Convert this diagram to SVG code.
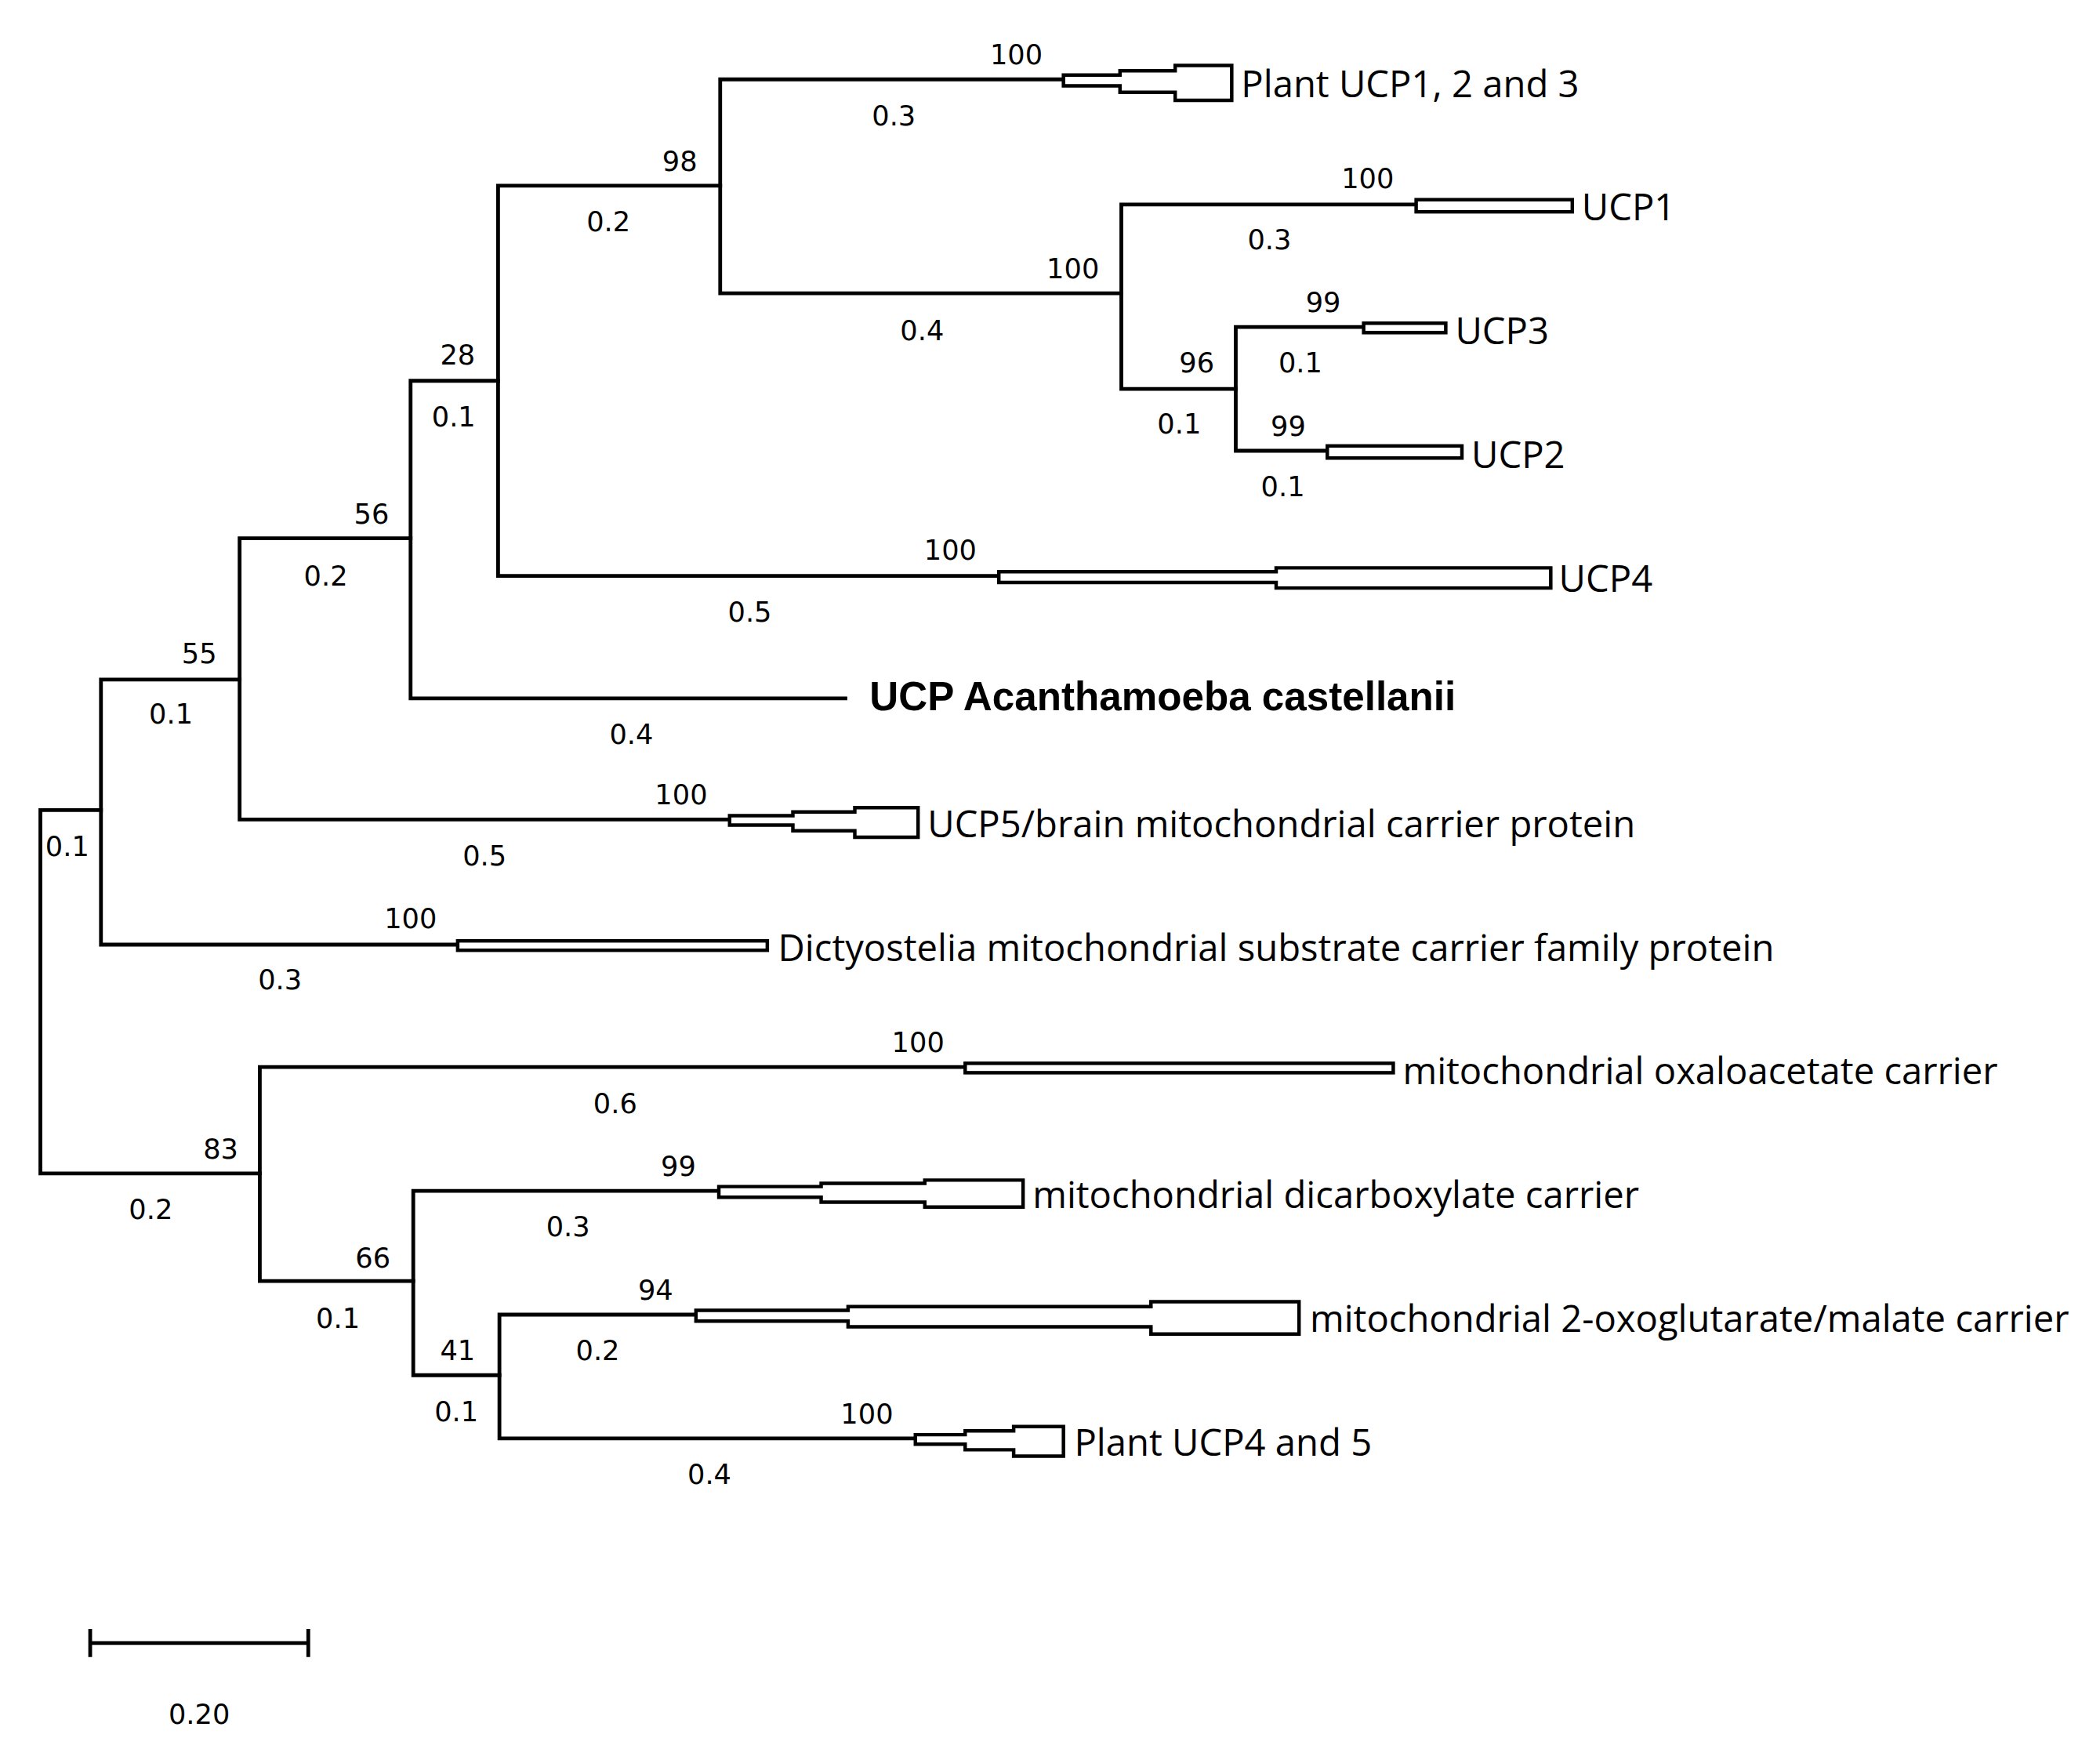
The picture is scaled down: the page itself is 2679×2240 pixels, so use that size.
<svg xmlns="http://www.w3.org/2000/svg" width="2679" height="2240" viewBox="0 0 2679 2240">
<style>
.e{fill:none;stroke:#000;stroke-width:2.8;stroke-linecap:square}
.c{fill:#fff;stroke:#000;stroke-width:2.6}
.n{font-family:"DejaVu Sans",sans-serif;font-size:20.5px;fill:#000;text-anchor:middle}
.l{font-family:"Open Sans",sans-serif;font-size:27.5px;fill:#000}
.b{font-family:"Liberation Sans",Arial,sans-serif;font-size:29.8px;font-weight:bold;fill:#000}
</style>
<rect width="2679" height="2240" fill="#fff"/>
<g transform="scale(1.7173,1.7165)">
<g id="connectors">
<path class="e" d="M75,602 H30 V872 H193"/>
<path class="e" d="M178,505 H75 V702 H340"/>
<path class="e" d="M305,400 H178 V609 H542"/>
<path class="e" d="M370,283 H305 V519 H628"/>
<path class="e" d="M535,138 H370 V428 H742"/>
<path class="e" d="M790,59 H535 V218 H833"/>
<path class="e" d="M1052,152 H833 V289 H918"/>
<path class="e" d="M1013,243 H918 V335 H986"/>
<path class="e" d="M717,793 H193 V952 H307"/>
<path class="e" d="M534,885 H307 V1022 H371"/>
<path class="e" d="M517,977 H371 V1069 H680"/>
</g>
<g id="plant-ucp123"><polygon class="c" points="790,55.8 832,55.8 832,52.6 873,52.6 873,48.6 915,48.6 915,74.6 873,74.6 873,68.6 832,68.6 832,63.8 790,63.8"/><text class="l" x="922" y="72">Plant UCP1, 2 and 3</text></g>
<g id="ucp1"><rect class="c" x="1052" y="148.4" width="116" height="9"/><text class="l" x="1175" y="164">UCP1</text></g>
<g id="ucp3"><rect class="c" x="1013" y="240.2" width="61" height="7"/><text class="l" x="1081" y="256">UCP3</text></g>
<g id="ucp2"><rect class="c" x="986" y="331.4" width="100" height="9"/><text class="l" x="1093" y="348">UCP2</text></g>
<g id="ucp4"><polygon class="c" points="742,424.8 948,424.8 948,422 1152,422 1152,437 948,437 948,432.8 742,432.8"/><text class="l" x="1158" y="440">UCP4</text></g>
<g id="acanthamoeba"><text class="b" x="646" y="528">UCP Acanthamoeba castellanii</text></g>
<g id="ucp5"><polygon class="c" points="542,606.2 589,606.2 589,603.4 635,603.4 635,600.2 682,600.2 682,622.2 635,622.2 635,617.4 589,617.4 589,613.2 542,613.2"/><text class="l" x="689" y="622">UCP5/brain mitochondrial carrier protein</text></g>
<g id="dictyostelia"><rect class="c" x="340" y="699.2" width="230" height="7"/><text class="l" x="578" y="714">Dictyostelia mitochondrial substrate carrier family protein</text></g>
<g id="oxaloacetate"><rect class="c" x="717" y="790.2" width="318" height="7"/><text class="l" x="1042" y="806">mitochondrial oxaloacetate carrier</text></g>
<g id="dicarboxylate"><polygon class="c" points="534,881.8 610,881.8 610,879.4 687,879.4 687,877 760,877 760,897 687,897 687,893.4 610,893.4 610,889.8 534,889.8"/><text class="l" x="767" y="898">mitochondrial dicarboxylate carrier</text></g>
<g id="oxoglutarate"><polygon class="c" points="517,973.8 630,973.8 630,971 855,971 855,967.4 965,967.4 965,991.4 855,991.4 855,986 630,986 630,981.8 517,981.8"/><text class="l" x="973" y="990">mitochondrial 2-oxoglutarate/malate carrier</text></g>
<g id="plant-ucp45"><polygon class="c" points="680,1066.2 717,1066.2 717,1063.4 753,1063.4 753,1060.2 790,1060.2 790,1082.2 753,1082.2 753,1077.4 717,1077.4 717,1073.2 680,1073.2"/><text class="l" x="798" y="1082">Plant UCP4 and 5</text></g>
<g id="bootstrap">
<text class="n" x="755" y="48">100</text><text class="n" x="505" y="127">98</text><text class="n" x="1016" y="140">100</text><text class="n" x="797" y="207">100</text><text class="n" x="983" y="232">99</text><text class="n" x="889" y="277">96</text><text class="n" x="957" y="324">99</text><text class="n" x="340" y="271">28</text><text class="n" x="276" y="389">56</text><text class="n" x="706" y="416">100</text><text class="n" x="148" y="493">55</text><text class="n" x="506" y="598">100</text><text class="n" x="305" y="690">100</text><text class="n" x="682" y="782">100</text><text class="n" x="164" y="861">83</text><text class="n" x="504" y="874">99</text><text class="n" x="277" y="942">66</text><text class="n" x="487" y="966">94</text><text class="n" x="340" y="1011">41</text><text class="n" x="644" y="1058">100</text>
</g>
<g id="lengths">
<text class="n" x="664" y="93">0.3</text><text class="n" x="452" y="172">0.2</text><text class="n" x="943" y="185">0.3</text><text class="n" x="685" y="253">0.4</text><text class="n" x="966" y="277">0.1</text><text class="n" x="876" y="322">0.1</text><text class="n" x="953" y="369">0.1</text><text class="n" x="337" y="317">0.1</text><text class="n" x="242" y="435">0.2</text><text class="n" x="557" y="462">0.5</text><text class="n" x="127" y="538">0.1</text><text class="n" x="469" y="553">0.4</text><text class="n" x="360" y="643">0.5</text><text class="n" x="50" y="636">0.1</text><text class="n" x="208" y="735">0.3</text><text class="n" x="457" y="827">0.6</text><text class="n" x="112" y="906">0.2</text><text class="n" x="422" y="919">0.3</text><text class="n" x="251" y="987">0.1</text><text class="n" x="444" y="1011">0.2</text><text class="n" x="339" y="1056">0.1</text><text class="n" x="527" y="1103">0.4</text>
</g>
<g id="scale-bar">
<path class="e" d="M67,1221 H229 M67,1212 V1230 M229,1212 V1230"/>
<text class="n" x="148" y="1281">0.20</text>
</g>
</g>
</svg>
